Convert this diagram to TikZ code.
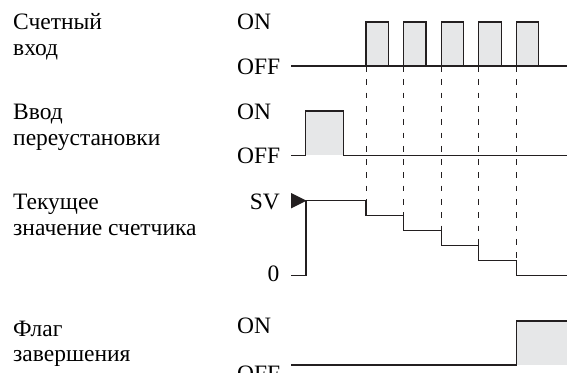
\documentclass[tikz,border=0pt]{standalone}
\usepackage{fontspec}
\setmainfont{Liberation Serif}
\usetikzlibrary{positioning,calc}
\definecolor{sigline}{RGB}{35,31,32}
\definecolor{sigfill}{RGB}{230,231,232}
\tikzset{
  lbl/.style={
    anchor=base west, inner sep=0pt, align=left,
    font=\fontsize{23.5}{25.5}\selectfont
  },
  lvlR/.style={lbl, anchor=base east},
  wave/.style={draw=sigline, line width=1.2pt},
  pulse/.style={fill=sigfill},
  guide/.style={draw=sigline, line width=1pt, dash pattern=on 5.7pt off 7.6pt},
  svmark/.style={fill=sigline}
}

\begin{document}
\begin{tikzpicture}[x=1pt, y=-1pt]
  \useasboundingbox (0,0) rectangle (567,372);

  \node[lbl] (cntL)   at (13,55)    {Счетный\\вход};
  \node[lbl] (cntOn)  at (237,29.3) {ON};
  \node[lbl] (cntOff) at (237,74)   {OFF};
  \node[lbl] (rstL)   at (13,145)   {Ввод\\переустановки};
  \node[lbl] (rstOn)  at (237,119.3){ON};
  \node[lbl] (rstOff) at (237,163.3){OFF};
  \node[lbl] (pvL)    at (13,235)   {Текущее\\значение счетчика};
  \node[lvlR] (pvSV)  at (280,209.3){SV};
  \node[lvlR] (pvZero) at (279.5,281.7){0};
  \node[lbl] (flgL)   at (13,361.5) {Флаг\\завершения};
  \node[lbl] (flgOn)  at (237,333.5){ON};
  \node[lbl] (flgOff) at (237,381)  {OFF};

  \foreach \i in {0,...,4} {
    \path[pulse] ({366+37.6*\i},22) rectangle ({388.3+37.6*\i},66);
    \draw[wave] ({366+37.6*\i},66) -- ({366+37.6*\i},22)
      -- ({388.3+37.6*\i},22) -- ({388.3+37.6*\i},66);
    \draw[guide] ({366+37.6*\i},66) -- ({366+37.6*\i},{200.7+14.92*\i});
    \draw[wave] ({366+37.6*\i},{200.7+14.92*\i})
      -- ({366+37.6*\i},{200.7+14.92*(\i+1)})
      -- ({403.6+37.6*\i},{200.7+14.92*(\i+1)});
  }
  \draw[wave] (291,66) -- (567,66);

  \path[pulse] (305.7,111) rectangle (343.3,155.3);
  \draw[wave] (291,155.3) -- (305.7,155.3) -- (305.7,111)
    -- (343.3,111) -- (343.3,155.3) -- (567,155.3);

  \draw[wave] (291,275.3) -- (306,275.3) -- (306,200.7) -- (366,200.7);
  \draw[wave] (554,275.3) -- (567,275.3);
  \path[svmark] (291,193) -- (306.5,200.7) -- (291,208.4) -- cycle;

  \path[pulse] (516.4,321) rectangle (567,365);
  \draw[wave] (291,365) -- (516.4,365) -- (516.4,321) -- (567,321);
\end{tikzpicture}
\end{document}
